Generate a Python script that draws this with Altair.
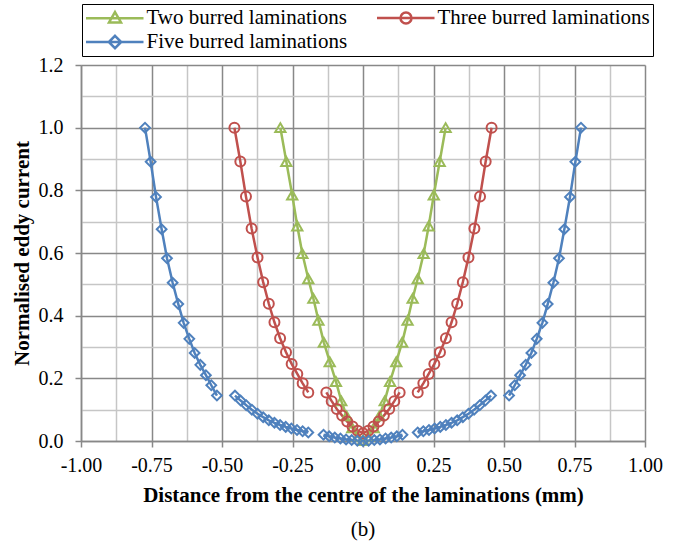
import altair as alt
import pandas as pd

FONT = "Liberation Serif"
GRID_MAJOR = "#888888"
GRID_MINOR = "#c6c6c6"
AXIS_COLOR = "#888888"

series_names = ["Two burred laminations", "Three burred laminations", "Five burred laminations"]
series_colors = ["#9BBB59", "#C0504D", "#4F81BD"]
marker_shapes = ["triangle-up", "circle", "diamond"]
marker_sizes = [105, 95, 120]
# legend symbols: a line with the series marker in the middle
legend_paths = [
    "M-1,0L4.75,0M1.9,-0.62L2.5,0.42L1.3,0.42Z",
    "M-1,0L4.75,0M2.45,0A0.55,0.55 0 1,1 1.35,0A0.55,0.55 0 1,1 2.45,0",
    "M-1,0L4.75,0M1.9,-0.62L2.52,0L1.9,0.62L1.28,0Z",
]

x_tick_values = [-1.0, -0.875, -0.75, -0.625, -0.5, -0.375, -0.25, -0.125, 0.0,
                 0.125, 0.25, 0.375, 0.5, 0.625, 0.75, 0.875, 1.0]
y_tick_values = [0.0, 0.1, 0.2, 0.3, 0.4, 0.5, 0.6, 0.7, 0.8, 0.9, 1.0, 1.1, 1.2]

# ---- Two burred laminations ----
two_left_x = [-0.293, -0.272, -0.251, -0.233, -0.215, -0.194, -0.176, -0.158, -0.139, -0.118, -0.096, -0.077, -0.058, -0.038, -0.018, 0.000]
two_left_y = [1.000, 0.892, 0.785, 0.686, 0.598, 0.518, 0.455, 0.385, 0.315, 0.253, 0.190, 0.128, 0.080, 0.042, 0.014, 0.002]
two_right_x = [0.000, 0.018, 0.038, 0.058, 0.077, 0.096, 0.118, 0.139, 0.158, 0.176, 0.194, 0.215, 0.233, 0.251, 0.272, 0.293]
two_right_y = [0.002, 0.014, 0.042, 0.080, 0.128, 0.190, 0.253, 0.315, 0.385, 0.455, 0.518, 0.598, 0.686, 0.785, 0.892, 1.000]

# ---- Three burred laminations ----
three_left_x = [-0.456, -0.435, -0.415, -0.395, -0.374, -0.354, -0.334, -0.314, -0.294, -0.273, -0.253, -0.233, -0.214, -0.194]
three_left_y = [1.000, 0.892, 0.780, 0.678, 0.586, 0.507, 0.438, 0.379, 0.328, 0.283, 0.246, 0.214, 0.184, 0.155]
three_mid_x = [-0.130, -0.111, -0.093, -0.074, -0.056, -0.037, -0.019, 0.000, 0.019, 0.037, 0.056, 0.074, 0.093, 0.111, 0.130]
three_mid_y = [0.155, 0.127, 0.102, 0.081, 0.062, 0.046, 0.033, 0.025, 0.033, 0.046, 0.062, 0.081, 0.102, 0.127, 0.155]
three_right_x = [0.194, 0.214, 0.233, 0.253, 0.273, 0.294, 0.314, 0.334, 0.354, 0.374, 0.395, 0.415, 0.435, 0.456]
three_right_y = [0.155, 0.184, 0.214, 0.246, 0.283, 0.328, 0.379, 0.438, 0.507, 0.586, 0.678, 0.780, 0.892, 1.000]

# ---- Five burred laminations ----
five_outer_left_x = [-0.773, -0.753, -0.734, -0.714, -0.695, -0.675, -0.655, -0.636, -0.616, -0.597, -0.577, -0.557, -0.538, -0.518]
five_outer_left_y = [1.000, 0.891, 0.779, 0.676, 0.583, 0.505, 0.437, 0.377, 0.326, 0.281, 0.243, 0.210, 0.178, 0.145]
five_inner_left_x = [-0.454, -0.434, -0.414, -0.394, -0.374, -0.354, -0.334, -0.314, -0.294, -0.274, -0.254, -0.234, -0.214, -0.194]
five_inner_left_y = [0.145, 0.129, 0.114, 0.100, 0.087, 0.076, 0.066, 0.058, 0.051, 0.045, 0.040, 0.035, 0.031, 0.027]
five_centre_x = [-0.140, -0.120, -0.100, -0.080, -0.060, -0.040, -0.020, 0.000, 0.020, 0.040, 0.060, 0.080, 0.100, 0.120, 0.140]
five_centre_y = [0.020, 0.015, 0.011, 0.008, 0.005, 0.003, 0.001, 0.000, 0.001, 0.003, 0.005, 0.008, 0.011, 0.015, 0.020]
five_inner_right_x = [0.194, 0.214, 0.234, 0.254, 0.274, 0.294, 0.314, 0.334, 0.354, 0.374, 0.394, 0.414, 0.434, 0.454]
five_inner_right_y = [0.027, 0.031, 0.035, 0.040, 0.045, 0.051, 0.058, 0.066, 0.076, 0.087, 0.100, 0.114, 0.129, 0.145]
five_outer_right_x = [0.518, 0.538, 0.557, 0.577, 0.597, 0.616, 0.636, 0.655, 0.675, 0.695, 0.714, 0.734, 0.753, 0.773]
five_outer_right_y = [0.145, 0.178, 0.210, 0.243, 0.281, 0.326, 0.377, 0.437, 0.505, 0.583, 0.676, 0.779, 0.891, 1.000]

segments = [
    (series_names[0], "two_L", two_left_x, two_left_y),
    (series_names[0], "two_R", two_right_x, two_right_y),
    (series_names[1], "three_L", three_left_x, three_left_y),
    (series_names[1], "three_M", three_mid_x, three_mid_y),
    (series_names[1], "three_R", three_right_x, three_right_y),
    (series_names[2], "five_1", five_outer_left_x, five_outer_left_y),
    (series_names[2], "five_2", five_inner_left_x, five_inner_left_y),
    (series_names[2], "five_3", five_centre_x, five_centre_y),
    (series_names[2], "five_4", five_inner_right_x, five_inner_right_y),
    (series_names[2], "five_5", five_outer_right_x, five_outer_right_y),
]

rows = []
for name, seg, xs, ys in segments:
    for i, (xv, yv) in enumerate(zip(xs, ys)):
        rows.append({"series": name, "seg": seg, "idx": i, "x": xv, "y": yv})
df = pd.DataFrame(rows)

x_major = "abs(datum.value * 4 - round(datum.value * 4)) < 0.001"
y_major = "round(datum.value * 10) % 2 == 0"

x_axis = alt.Axis(
    values=x_tick_values,
    title="Distance from the centre of the laminations (mm)",
    labelExpr=f"{x_major} ? replace(format(datum.value, '.2f'), '\u2212', '-') : ''",
    grid=True,
    gridColor={"condition": {"test": x_major, "value": GRID_MAJOR}, "value": GRID_MINOR},
    gridWidth=1.5,
    domainColor=AXIS_COLOR, domainWidth=1.5,
    tickColor={"condition": {"test": x_major, "value": AXIS_COLOR}, "value": "transparent"},
    tickWidth=1.5, tickSize=6,
    labelFont=FONT, labelFontSize=20, labelColor="black", labelPadding=8,
    labelFlush=False, labelOverlap=False,
    titleFont=FONT, titleFontSize=21, titleFontWeight="bold", titleColor="black",
    titlePadding=9,
)
y_axis = alt.Axis(
    values=y_tick_values,
    title="Normalised eddy current",
    labelExpr=f"{y_major} ? format(datum.value, '.1f') : ''",
    grid=True,
    gridColor={"condition": {"test": y_major, "value": GRID_MAJOR}, "value": GRID_MINOR},
    gridWidth=1.5,
    domainColor=AXIS_COLOR, domainWidth=1.5,
    tickColor={"condition": {"test": y_major, "value": AXIS_COLOR}, "value": "transparent"},
    tickWidth=1.5, tickSize=6,
    labelFont=FONT, labelFontSize=20, labelColor="black", labelPadding=12,
    labelFlush=False, labelOverlap=False,
    titleFont=FONT, titleFontSize=21, titleFontWeight="bold", titleColor="black",
    titlePadding=6,
)

x_enc = alt.X("x:Q", scale=alt.Scale(domain=[-1, 1], nice=False, zero=False), axis=x_axis)
y_enc = alt.Y("y:Q", scale=alt.Scale(domain=[0, 1.2], nice=False), axis=y_axis)
color_scale = alt.Scale(domain=series_names, range=series_colors)

base = alt.Chart(df).encode(x=x_enc, y=y_enc)

lines = base.mark_line(strokeWidth=2.5).encode(
    color=alt.Color("series:N", scale=color_scale, legend=None),
    detail="seg:N",
    order="idx:Q",
)
points = base.mark_point(filled=False, strokeWidth=2, opacity=1).encode(
    color=alt.Color("series:N", scale=color_scale, legend=None),
    shape=alt.Shape("series:N", scale=alt.Scale(domain=series_names, range=marker_shapes), legend=None),
    size=alt.Size("series:N", scale=alt.Scale(domain=series_names, range=marker_sizes), legend=None),
    detail="seg:N",
)

leg = alt.Legend(
    title=None, orient="none", direction="horizontal", legendX=1, legendY=-61, columns=2,
    columnPadding=24, rowPadding=2, padding=2.5,
    symbolSize=400, symbolStrokeWidth=2.5, symbolOpacity=1,
    labelOffset=39, labelFont=FONT, labelFontSize=21, labelColor="black", labelLimit=400,
    strokeColor="black", fillColor="white", cornerRadius=0,
)
legend_layer = base.mark_point(filled=False, opacity=0).encode(
    color=alt.Color("series:N", scale=color_scale, legend=leg),
    shape=alt.Shape("series:N", scale=alt.Scale(domain=series_names, range=legend_paths), legend=leg),
)

chart = (
    alt.layer(lines, points, legend_layer)
    .resolve_scale(color="independent", shape="independent", size="independent")
    .properties(
        width=564, height=376,
        padding={"left": 81, "top": 65, "right": 43, "bottom": 107},
        autosize=alt.AutoSizeParams(type="none"),
        background="white",
        title=alt.TitleParams("(b)", orient="bottom", anchor="middle", font=FONT,
                              fontSize=21, fontWeight="normal", color="black", offset=14),
    )
    .configure_view(stroke=None)
    .configure_axis(labelFont=FONT, titleFont=FONT)
    .configure_legend(labelFont=FONT)
)

chart.save("out.html", embed_options={"renderer": "svg", "actions": False})
